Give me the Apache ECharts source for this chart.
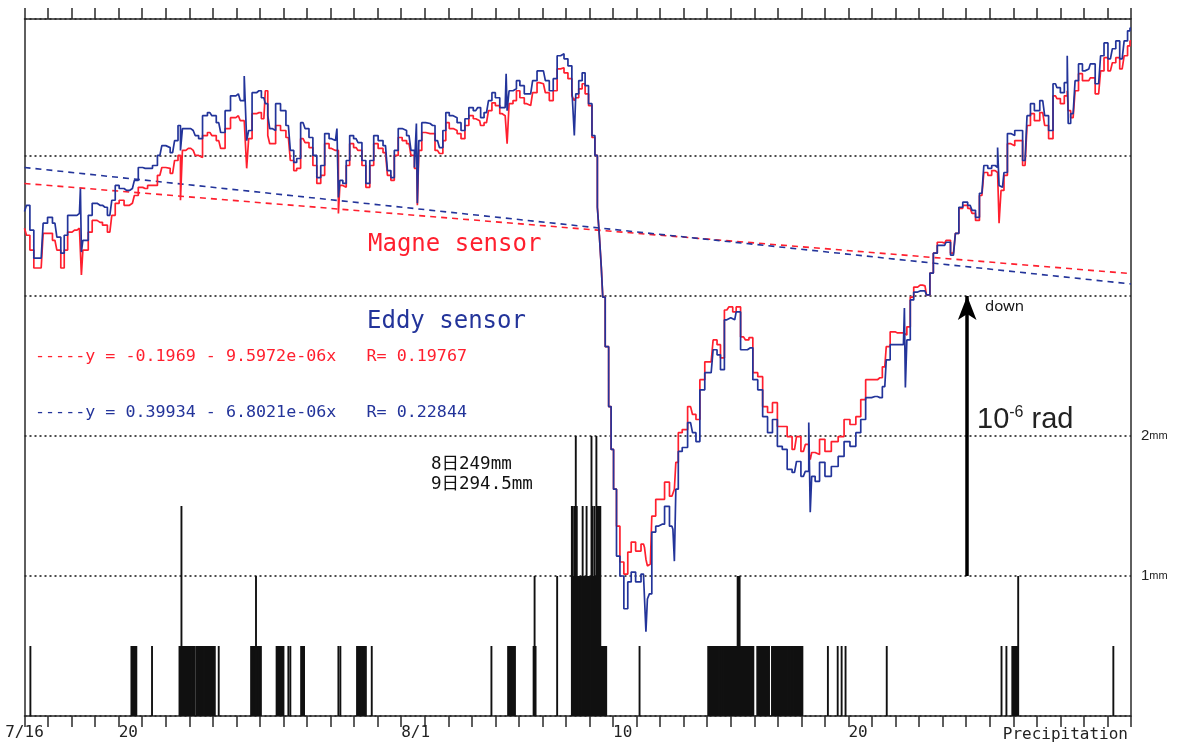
<!DOCTYPE html>
<html><head><meta charset="utf-8">
<script src="https://cdn.jsdelivr.net/npm/echarts@6/dist/echarts.min.js"></script>
<style>html,body{margin:0;padding:0;background:#fff}#c{width:1177px;height:744px}</style>
</head><body><div id="c"></div>
<script>
// time axis: hours since 7/16 00:00 (47 days shown)
const HOURS_TOTAL = 1128;
const firstLabel = '7/16';
const dayLabels = {4: '20', 16: '8/1', 25: '10', 35: '20'};
const precipLabels = {1: '1', 2: '2'};

// tilt (10^-6 rad, arbitrary zero) read every few hours
const tiltHours = [
  0,4,7,12,17,21,26,31,35,39,
  42,46,51,56,58,58,61,63,67,71,
  77,82,87,91,94,99,104,110,114,118,
  123,128,133,138,142,146,151,155,158,160,
  162,167,172,176,179,184,189,193,198,202,
  207,213,218,222,226,227,230,234,239,244,
  247,249,251,254,258,264,269,273,276,279,
  284,288,292,296,300,304,308,313,317,320,
  320,323,326,330,333,338,342,346,350,354,
  358,363,368,372,375,379,383,387,392,396,
  399,400,401,403,407,411,416,421,425,428,
  431,435,439,443,447,451,455,460,464,466,
  471,475,478,482,487,490,492,492,496,500,
  503,507,512,516,520,525,529,533,537,541,
  545,548,552,556,560,561,563,567,570,573,
  577,580,583,585,587,589,590,594,597,599,
  602,605,609,613,617,620,626,631,633,634,
  636,638,641,646,650,655,660,662,663,665,
  668,673,679,683,686,691,696,700,704,708,
  711,716,720,724,727,733,737,740,745,750,
  755,760,765,770,775,780,785,789,794,798,
  801,801,804,808,813,819,826,833,838,845,
  850,855,860,867,872,877,880,885,890,896,
  898,898,901,905,908,913,918,921,925,928,
  933,938,941,947,951,954,959,964,968,971,
  976,980,984,988,991,993,994,997,1000,1004,
  1007,1012,1015,1020,1024,1027,1032,1038,1042,1046,
  1051,1054,1058,1062,1064,1064,1069,1073,1076,1081,
  1085,1088,1095,1099,1102,1107,1111,1114,1119,1123,
  1126,1128
];
const eddy = [
  .302,.324,.235,.135,.135,.260,.281,.260,.210,.153,
  .217,.288,.288,.295,.384,.157,.199,.199,.288,.331,
  .324,.317,.288,.342,.395,.384,.377,.384,.413,.459,
  .456,.456,.466,.502,.537,.530,.512,.555,.609,.520,
  .598,.598,.591,.573,.562,.644,.655,.644,.619,.584,
  .662,.715,.722,.698,.786,.555,.591,.726,.733,.708,
  .687,.644,.598,.591,.687,.662,.609,.520,.477,.491,
  .619,.598,.566,.502,.423,.466,.580,.562,.555,.598,
  .352,.413,.402,.484,.573,.562,.548,.484,.402,.484,
  .573,.555,.537,.448,.423,.520,.598,.591,.573,.520,
  .459,.616,.331,.555,.619,.616,.609,.555,.530,.591,
  .655,.644,.637,.619,.591,.633,.673,.662,.673,.637,
  .655,.698,.726,.708,.673,.673,.794,.662,.733,.740,
  .769,.751,.722,.722,.769,.804,.804,.769,.733,.776,
  .858,.865,.847,.822,.740,.573,.722,.769,.797,.751,
  .687,.573,.502,.317,.217,.103,-.004,-.181,-.395,-.548,
  -.690,-.929,-1.000,-1.117,-1.021,-.986,-1.021,-.993,-.993,-1.199,
  -1.082,-1.064,-.843,-.822,-.815,-.751,-.822,-.833,-.947,-.690,
  -.555,-.541,-.452,-.488,-.520,-.335,-.274,-.274,-.192,-.210,
  -.263,-.085,-.078,-.085,-.057,-.192,-.192,-.185,-.299,-.335,
  -.431,-.488,-.441,-.537,-.548,-.619,-.630,-.591,-.644,-.626,
  -.452,-.772,-.644,-.662,-.594,-.644,-.609,-.573,-.520,-.537,
  -.488,-.441,-.363,-.359,-.363,-.324,-.228,-.174,-.174,-.174,
  -.043,-.327,-.157,-.014,.014,.018,.018,.004,.082,.153,
  .181,.181,.192,.146,.224,.317,.335,.324,.306,.281,
  .367,.466,.456,.466,.459,.530,.395,.388,.441,.580,
  .573,.591,.591,.484,.644,.687,.662,.698,.644,.591,
  .758,.744,.726,.762,.858,.616,.651,.769,.829,.804,
  .811,.829,.758,.858,.904,.847,.883,.911,.847,.911,
  .947,.957
];
const magne = [
  .242,.217,.164,.100,.100,.224,.224,.199,.164,.100,
  .164,.228,.235,.242,.235,.075,.164,.164,.228,.270,
  .263,.253,.228,.288,.331,.342,.324,.331,.359,.388,
  .384,.395,.395,.431,.459,.456,.438,.484,.502,.342,
  .520,.527,.520,.502,.495,.573,.584,.573,.555,.527,
  .598,.637,.644,.626,.626,.456,.562,.651,.655,.633,
  .733,.573,.544,.544,.609,.591,.566,.484,.448,.456,
  .562,.548,.530,.466,.402,.431,.544,.527,.520,.520,
  .295,.395,.388,.466,.544,.530,.520,.466,.388,.466,
  .544,.527,.512,.431,.413,.502,.566,.555,.544,.502,
  .456,.456,.324,.520,.584,.580,.580,.520,.509,.555,
  .619,.598,.591,.580,.562,.609,.644,.633,.626,.609,
  .619,.662,.690,.680,.651,.644,.651,.544,.687,.698,
  .733,.708,.687,.680,.726,.762,.758,.726,.698,.733,
  .811,.815,.797,.776,.715,.698,.708,.740,.758,.722,
  .680,.566,.502,.317,.217,.103,-.004,-.181,-.395,-.548,
  -.690,-.822,-.950,-.993,-.915,-.879,-.911,-.886,-.897,-.940,
  -.964,-.957,-.786,-.726,-.726,-.665,-.715,-.708,-.690,-.594,
  -.488,-.477,-.395,-.423,-.441,-.299,-.235,-.235,-.157,-.174,
  -.221,-.050,-.039,-.057,-.039,-.146,-.157,-.149,-.274,-.288,
  -.395,-.416,-.381,-.466,-.466,-.502,-.548,-.502,-.555,-.530,
  -.559,-.584,-.559,-.566,-.512,-.555,-.520,-.502,-.441,-.459,
  -.431,-.370,-.299,-.299,-.292,-.253,-.181,-.128,-.132,-.132,
  -.132,-.139,-.110,-.004,.032,.039,.036,.004,.082,.153,
  .192,.189,.199,.153,.224,.313,.324,.313,.295,.270,
  .359,.441,.431,.448,.441,.448,.260,.377,.431,.544,
  .537,.555,.555,.466,.609,.651,.626,.655,.609,.562,
  .715,.705,.687,.715,.733,.662,.637,.733,.794,.769,
  .769,.779,.722,.804,.851,.804,.833,.851,.811,.858,
  .893,.911
];

// linear regression lines (end values)
const trendHours = [0, 1128];
const magneTrend = [0.402, 0.080];
const eddyTrend = [0.459, 0.043];

// scale bar: 1e-6 rad
const scaleBarHour = 961;
const scaleBar = [-1, 0];

// hourly precipitation [hour, mm]
const rain = [
  [6,.5],
  [109,.5],[110,.5],[111,.5],[112,.5],[113,.5],[114,.5],
  [130,.5],
  [158,.5],[159,.5],[160,1.5],[161,.5],[162,.5],[163,.5],[164,.5],[165,.5],[166,.5],[167,.5],[168,.5],[169,.5],[170,.5],[171,.5],[172,.5],[173,.5],
  [175,.5],[176,.5],[177,.5],[178,.5],[179,.5],[180,.5],[181,.5],[182,.5],[183,.5],[184,.5],[185,.5],[186,.5],[187,.5],[188,.5],[189,.5],[190,.5],[191,.5],[192,.5],[193,.5],[194,.5],
  [198,.5],
  [231,.5],[232,.5],[233,.5],[234,.5],[235,.5],[236,1],[237,.5],[238,.5],[239,.5],[240,.5],[241,.5],
  [257,.5],[258,.5],[259,.5],[260,.5],[261,.5],[262,.5],[263,.5],[264,.5],
  [269,.5],[271,.5],
  [282,.5],[283,.5],[284,.5],[285,.5],
  [320,.5],[322,.5],
  [339,.5],[340,.5],[341,.5],[342,.5],[343,.5],[344,.5],[345,.5],[346,.5],[347,.5],[348,.5],
  [354,.5],
  [476,.5],
  [493,.5],[494,.5],[495,.5],[496,.5],[497,.5],[498,.5],[499,.5],[500,.5],
  [519,.5],[520,1],[521,.5],
  [543,1],
  [558,1.5],[559,1.5],[560,1],[561,1.5],[562,2],[563,1.5],[564,1],[565,1],[566,1],[567,1],[568,1],[569,1.5],[570,1],[571,1],[572,1],[573,1.5],[574,1],[575,1],[576,1],[577,1],[578,2],[579,1.5],[580,1],[581,1.5],[582,1],[583,2],[584,1.5],[585,1.5],[586,1.5],[587,1.5],[588,.5],[589,.5],[590,.5],[591,.5],[592,.5],[593,.5],
  [627,.5],
  [697,.5],[698,.5],[699,.5],[700,.5],[701,.5],[702,.5],[703,.5],[704,.5],[705,.5],[706,.5],[707,.5],[708,.5],[709,.5],[710,.5],[711,.5],[712,.5],[713,.5],[714,.5],[715,.5],[716,.5],[717,.5],[718,.5],[719,.5],[720,.5],[721,.5],[722,.5],[723,.5],[724,.5],[725,.5],[726,.5],[727,1],[728,1],[729,1],[730,.5],[731,.5],[732,.5],[733,.5],[734,.5],[735,.5],[736,.5],[737,.5],[738,.5],[739,.5],[740,.5],[741,.5],[742,.5],[743,.5],
  [747,.5],[748,.5],[749,.5],[750,.5],[751,.5],[752,.5],[753,.5],[754,.5],[755,.5],[756,.5],[757,.5],[758,.5],[759,.5],
  [762,.5],[763,.5],[764,.5],[765,.5],[766,.5],[767,.5],[768,.5],[769,.5],[770,.5],[771,.5],[772,.5],[773,.5],[774,.5],[775,.5],[776,.5],[777,.5],[778,.5],[779,.5],[780,.5],[781,.5],[782,.5],[783,.5],[784,.5],[785,.5],[786,.5],[787,.5],[788,.5],[789,.5],[790,.5],[791,.5],[792,.5],[793,.5],
  [819,.5],[829,.5],[833,.5],[837,.5],
  [879,.5],
  [996,.5],[1001,.5],
  [1007,.5],[1008,.5],[1009,.5],[1010,.5],[1011,.5],[1012,.5],[1013,1],
  [1110,.5]
];

const PRECIP_MAX = 4.9786;
const TILT_MIN = -1.5, TILT_MAX = PRECIP_MAX / 2 + TILT_MIN;

const RED = '#ff1f2e', BLUE = '#23349a';
const AX = '#2a2a2a';
const mono = '"DejaVu Sans Mono", monospace';
const narrow = '"Liberation Sans Narrow","Liberation Sans",sans-serif';

const zip = (xs, ys) => xs.map((x, i) => [x, ys[i]]);

const xBase = {type: 'value', min: 0, max: HOURS_TOTAL, interval: 24, splitLine: {show: false}};

const chart = echarts.init(document.getElementById('c'));
chart.setOption({
  animation: false,
  backgroundColor: '#fff',
  grid: {left: 24.5, right: 46, top: 19, bottom: 28},
  xAxis: [
    Object.assign({}, xBase, {
      position: 'bottom',
      axisLine: {show: true, onZero: false, lineStyle: {color: AX, width: 1.5}},
      axisTick: {show: true, inside: false, length: 11, lineStyle: {color: AX, width: 1.5}},
      axisLabel: {show: true, margin: 9, align: 'left', fontFamily: mono, fontSize: 16, color: '#222',
        formatter: v => dayLabels[v / 24] || ''}
    }),
    Object.assign({}, xBase, {
      position: 'bottom',
      axisLine: {show: false}, axisTick: {show: false},
      axisLabel: {show: true, margin: 9, align: 'center', fontFamily: mono, fontSize: 16, color: '#222',
        showMinLabel: true, formatter: v => (v === 0 ? firstLabel : '')}
    }),
    Object.assign({}, xBase, {
      position: 'top',
      axisLine: {show: true, onZero: false, lineStyle: {color: AX, width: 1.5}},
      axisTick: {show: true, inside: false, length: 11, lineStyle: {color: AX, width: 1.5}},
      axisLabel: {show: false}
    })
  ],
  yAxis: [
    {type: 'value', min: TILT_MIN, max: TILT_MAX, position: 'left',
      axisLine: {show: true, onZero: false, lineStyle: {color: AX, width: 1.5}},
      axisTick: {show: false}, axisLabel: {show: false}, splitLine: {show: false}},
    {type: 'value', min: 0, max: PRECIP_MAX, interval: 1, position: 'right',
      axisLine: {show: true, onZero: false, lineStyle: {color: AX, width: 1.5}},
      axisTick: {show: false},
      axisLabel: {show: true, margin: 10,
        formatter: v => (precipLabels[v] ? '{n|' + precipLabels[v] + '}{u|mm}' : ''),
        rich: {
          n: {fontSize: 15, fontFamily: narrow, color: '#222'},
          u: {fontSize: 11, fontFamily: narrow, color: '#222'}
        }},
      splitLine: {show: true, lineStyle: {color: '#111', width: 1.5, type: [2, 3]}}}
  ],
  series: [
    {type: 'bar', name: 'Precipitation', xAxisIndex: 0, yAxisIndex: 1, data: rain,
      barWidth: 1.9, itemStyle: {color: '#111'}, silent: true, z: 1},
    {type: 'line', xAxisIndex: 0, yAxisIndex: 0, data: zip(trendHours, magneTrend), showSymbol: false,
      lineStyle: {color: RED, width: 1.6, type: [6, 5]}, z: 2},
    {type: 'line', xAxisIndex: 0, yAxisIndex: 0, data: zip(trendHours, eddyTrend), showSymbol: false,
      lineStyle: {color: BLUE, width: 1.6, type: [6, 5]}, z: 2},
    {type: 'line', name: 'Magne sensor', xAxisIndex: 0, yAxisIndex: 0, data: zip(tiltHours, magne),
      step: 'middle', showSymbol: false, lineStyle: {color: RED, width: 1.7}, z: 3},
    {type: 'line', name: 'Eddy sensor', xAxisIndex: 0, yAxisIndex: 0, data: zip(tiltHours, eddy),
      step: 'middle', showSymbol: false, lineStyle: {color: BLUE, width: 1.7}, z: 4,
      markLine: {silent: true, symbol: ['none', 'arrow'], symbolSize: [14, 24], label: {show: false},
        lineStyle: {color: '#000', width: 3.5, type: 'solid'},
        data: [[{coord: [scaleBarHour, scaleBar[0]]}, {coord: [scaleBarHour, scaleBar[1]]}]]}}
  ],
  graphic: [
    {type: 'text', x: 368, y: 245, style: {text: 'Magne sensor', fill: RED, font: '24px ' + mono, verticalAlign: 'middle', textVerticalAlign: 'middle'}},
    {type: 'text', x: 367, y: 322, style: {text: 'Eddy sensor', fill: BLUE, font: '24px ' + mono, verticalAlign: 'middle', textVerticalAlign: 'middle'}},
    {type: 'text', x: 35, y: 357, style: {text: '-----y = -0.1969 - 9.5972e-06x   R= 0.19767', fill: RED, font: '16.7px ' + mono, verticalAlign: 'middle', textVerticalAlign: 'middle'}},
    {type: 'text', x: 35, y: 413, style: {text: '-----y = 0.39934 - 6.8021e-06x   R= 0.22844', fill: BLUE, font: '16.7px ' + mono, verticalAlign: 'middle', textVerticalAlign: 'middle'}},
    {type: 'text', x: 431, y: 464, style: {text: '8日249mm', fill: '#111', font: '17.5px ' + mono + ',"Noto Sans CJK JP"', verticalAlign: 'middle', textVerticalAlign: 'middle'}},
    {type: 'text', x: 431, y: 484, style: {text: '9日294.5mm', fill: '#111', font: '17.5px ' + mono + ',"Noto Sans CJK JP"', verticalAlign: 'middle', textVerticalAlign: 'middle'}},
    {type: 'text', x: 985, y: 307, style: {text: 'down', fill: '#111', font: '15px "Noto Sans", sans-serif', verticalAlign: 'middle', textVerticalAlign: 'middle'}},
    {type: 'text', x: 977, y: 405, style: {text: '{a|10}{b|-6}{a| rad}', verticalAlign: 'top', textVerticalAlign: 'top',
      rich: {a: {fontSize: 29, fontFamily: narrow, fill: '#222', color: '#222'},
             b: {fontSize: 16, fontFamily: narrow, fill: '#222', color: '#222', verticalAlign: 'top'}}}},
    {type: 'text', x: 1128, y: 735, style: {text: 'Precipitation', fill: '#222', font: '16px ' + mono, align: 'right', textAlign: 'right', verticalAlign: 'middle', textVerticalAlign: 'middle'}}
  ]
});
</script>
</body></html>
